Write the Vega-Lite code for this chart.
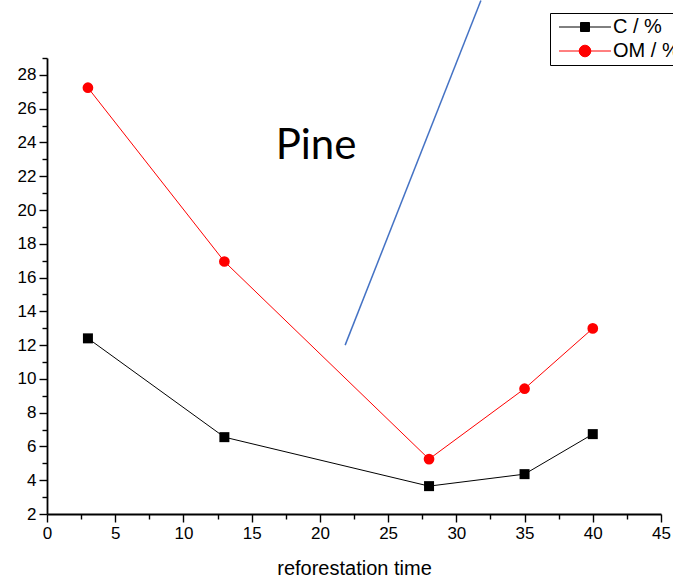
{
  "$schema": "https://vega.github.io/schema/vega-lite/v6.json",
  "width": 614,
  "height": 456,
  "autosize": {"type": "none"},
  "padding": {"left": 47, "top": 58, "right": 12, "bottom": 68},
  "background": "white",
  "config": {
    "view": {"stroke": null},
    "font": "Liberation Sans"
  },
  "datasets": {
    "series": [
      {"t": 3, "v": 12.4, "s": "C / %"},
      {"t": 13, "v": 6.55, "s": "C / %"},
      {"t": 28, "v": 3.65, "s": "C / %"},
      {"t": 35, "v": 4.36, "s": "C / %"},
      {"t": 40, "v": 6.73, "s": "C / %"},
      {"t": 3, "v": 27.24, "s": "OM / %"},
      {"t": 13, "v": 16.95, "s": "OM / %"},
      {"t": 28, "v": 5.25, "s": "OM / %"},
      {"t": 35, "v": 9.42, "s": "OM / %"},
      {"t": 40, "v": 12.99, "s": "OM / %"}
    ],
    "blue": [
      {"t": 21.85, "v": 12.0},
      {"t": 31.8, "v": 32.4}
    ],
    "label": [
      {"t": 19.72, "v": 23.04, "text": "Pine"}
    ]
  },
  "encoding": {
    "x": {
      "field": "t", "type": "quantitative",
      "scale": {"domain": [0, 45], "nice": false, "zero": false},
      "axis": {
        "title": "reforestation time",
        "values": [0, 2.5, 5, 7.5, 10, 12.5, 15, 17.5, 20, 22.5, 25, 27.5, 30, 32.5, 35, 37.5, 40, 42.5, 45],
        "labelExpr": "datum.value % 5 === 0 ? datum.label : ''",
        "tickSize": {"expr": "datum.value % 5 === 0 ? 8 : 5"},
        "labelPadding": 3,
        "titlePadding": 17,
        "labelFlush": false,
        "labelOverlap": false,
        "labelBound": false,
        "grid": false,
        "domainColor": "black",
        "domainWidth": 1.8,
        "tickColor": "black",
        "tickWidth": 1.4,
        "labelColor": "black",
        "labelFont": "Liberation Sans",
        "labelFontSize": 17,
        "titleFont": "Liberation Sans",
        "titleFontSize": 20,
        "titleFontWeight": "normal",
        "titleColor": "black"
      }
    },
    "y": {
      "field": "v", "type": "quantitative",
      "scale": {"domain": [2, 29], "nice": false, "zero": false},
      "axis": {
        "title": null,
        "values": [2, 3, 4, 5, 6, 7, 8, 9, 10, 11, 12, 13, 14, 15, 16, 17, 18, 19, 20, 21, 22, 23, 24, 25, 26, 27, 28, 29],
        "labelExpr": "datum.value % 2 === 0 && datum.value < 29 ? datum.label : ''",
        "tickSize": {"expr": "datum.value % 2 === 0 ? 8 : 5"},
        "labelPadding": 3,
        "labelFlush": false,
        "labelOverlap": false,
        "labelBound": false,
        "grid": false,
        "domainColor": "black",
        "domainWidth": 1.8,
        "tickColor": "black",
        "tickWidth": 1.4,
        "labelColor": "black",
        "labelFont": "Liberation Sans",
        "labelFontSize": 17
      }
    }
  },
  "layer": [
    {
      "data": {"name": "series"},
      "mark": {"type": "line", "strokeWidth": 1},
      "encoding": {
        "color": {
          "field": "s", "type": "nominal",
          "scale": {"domain": ["C / %", "OM / %"], "range": ["black", "red"]},
          "legend": {
            "title": null,
            "orient": "none",
            "legendX": 503,
            "legendY": -45,
            "strokeColor": "black",
            "fillColor": "white",
            "padding": 4,
            "symbolSize": 144,
            "symbolOffset": 21,
            "labelOffset": 18,
            "labelFontSize": 20,
            "labelFont": "Liberation Sans",
            "labelColor": "black",
            "rowPadding": 4,
            "symbolStrokeWidth": 1,
            "encode": {
              "symbols": {
                "update": {
                  "shape": {"signal": "datum.value === 'C / %' ? 'M-4.33,0H4.33M-0.75,-0.75H0.75V0.75H-0.75Z' : 'M-4.33,0H4.33M-0.97,0A0.97,0.97,0,1,1,0.97,0A0.97,0.97,0,1,1,-0.97,0Z'"},
                  "stroke": {"signal": "datum.value === 'C / %' ? 'black' : 'red'"},
                  "fill": {"signal": "datum.value === 'C / %' ? 'black' : 'red'"},
                  "strokeWidth": {"value": 1},
                  "opacity": {"value": 1}
                }
              }
            }
          }
        }
      }
    },
    {
      "data": {"name": "series"},
      "transform": [{"filter": "datum.s === 'C / %'"}],
      "mark": {"type": "point", "shape": "square", "filled": true, "opacity": 1, "size": 100},
      "encoding": {
        "color": {
          "field": "s", "type": "nominal",
          "scale": {"domain": ["C / %", "OM / %"], "range": ["black", "red"]}
        }
      }
    },
    {
      "data": {"name": "series"},
      "transform": [{"filter": "datum.s === 'OM / %'"}],
      "mark": {"type": "point", "shape": "circle", "filled": true, "opacity": 1, "size": 115},
      "encoding": {
        "color": {
          "field": "s", "type": "nominal",
          "scale": {"domain": ["C / %", "OM / %"], "range": ["black", "red"]}
        }
      }
    },
    {
      "data": {"name": "blue"},
      "mark": {"type": "line", "color": "#4472C4", "strokeWidth": 1.5, "clip": false},
      "encoding": {}
    },
    {
      "data": {"name": "label"},
      "mark": {"type": "text", "font": "Lato", "fontSize": 42, "align": "center", "baseline": "alphabetic", "color": "black", "clip": false},
      "encoding": {
        "text": {"field": "text"}
      }
    }
  ]
}
